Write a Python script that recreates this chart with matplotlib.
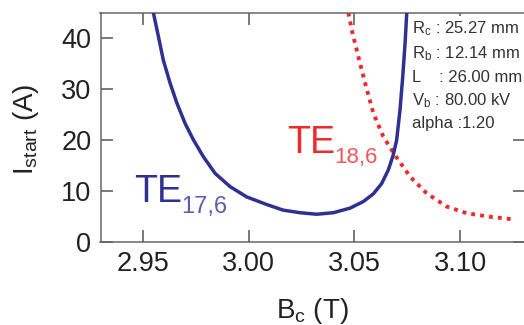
import matplotlib
matplotlib.use("Agg")
import matplotlib.pyplot as plt
from matplotlib.patches import Rectangle

plt.rcParams['font.family'] = ['Liberation Sans', 'DejaVu Sans']
plt.rcParams['mathtext.fontset'] = 'custom'
plt.rcParams['mathtext.rm'] = 'Liberation Sans'
plt.rcParams['mathtext.it'] = 'Liberation Sans:italic'

# TE17,6 start current
b_te17 = [2.9550, 2.9574, 2.9597, 2.9629, 2.9661, 2.9700, 2.9739, 2.9786, 2.9842,
          2.9913, 2.9991, 3.0086, 3.0164, 3.0243, 3.0322, 3.0401, 3.0480, 3.0543,
          3.0590, 3.0629, 3.0661, 3.0684, 3.0700, 3.0716, 3.0729, 3.0740, 3.0748]
i_te17 = [45.0, 40.3, 35.7, 31.2, 27.3, 23.3, 20.1, 16.8, 13.5,
          10.9, 8.9, 7.4, 6.3, 5.8, 5.5, 5.8, 6.7, 8.0,
          9.5, 11.5, 14.2, 17.1, 20.0, 25.9, 32.5, 39.0, 45.0]
# TE18,6 start current
b_te18 = [3.0472, 3.0488, 3.0519, 3.0551, 3.0590, 3.0637, 3.0692, 3.0763, 3.0842,
          3.0937, 3.1031, 3.1141, 3.1251]
i_te18 = [45.0, 41.6, 36.4, 31.2, 25.3, 20.7, 17.1, 12.9, 9.6,
          7.0, 5.7, 5.0, 4.5]

xticks = [2.95, 3.00, 3.05, 3.10]
xtick_labels = ['2.95', '3.00', '3.05', '3.10']
yticks = [0, 10, 20, 30, 40]

params = [r'R$_\mathrm{c}$ : 25.27 mm', r'R$_\mathrm{b}$ : 12.14 mm',
          r'L    : 26.00 mm', r'V$_\mathrm{b}$ : 80.00 kV', 'alpha :1.20']

W, H = 524, 325
fig = plt.figure(figsize=(W / 100, H / 100), dpi=100)
ax = fig.add_axes([100.5 / W, 1 - 242.3 / H, (525 - 100.5) / W, (242.3 - 12.7) / H])

blue = '#2e3191'
red = '#ee2a2d'
ax.plot(b_te18, i_te18, color=red, lw=2.8, linestyle=(0, (1, 1.3)), zorder=2)
ax.plot(b_te17, i_te17, color=blue, lw=2.5, zorder=3,
        solid_joinstyle='round', solid_capstyle='butt')

ax.set_xlim(2.930, 3.1307)
ax.set_ylim(0, 45)
ax.set_xticks(xticks)
ax.set_xticklabels(xtick_labels)
ax.set_yticks(yticks)
ax.tick_params(direction='in', length=8.6, width=1.1, color='#555555',
               labelsize=19.5, labelcolor='#222222', pad=6.5,
               top=True, right=True)
for s in ax.spines.values():
    s.set_color('#666666')
    s.set_linewidth(1.1)

def ftxt(x, y, s, **kw):
    fig.text(x / W, 1 - y / H, s, **kw)

# curve labels
ftxt(134, 201.7, 'TE', color=blue, fontsize=27, va='baseline', ha='left')
ftxt(181, 213.3, '17,6', color='#5a5fae', fontsize=17, va='baseline', ha='left')
ftxt(287, 152.7, 'TE', color=red, fontsize=27, va='baseline', ha='left')
ftxt(334, 163.3, '18,6', color='#f2565a', fontsize=16, va='baseline', ha='left')

# axis labels
ftxt(26, 129, r'I$_\mathrm{start}$ (A)', rotation=90, fontsize=20,
     color='#222222', ha='center', va='center')
ftxt(312, 318.3, r'B$_\mathrm{c}$ (T)', fontsize=20, color='#222222',
     ha='center', va='baseline')

# parameter box
fig.patches.append(Rectangle((409 / W, 1 - 133 / H), (W - 409) / W, (133 - 16) / H,
                             transform=fig.transFigure, facecolor='white',
                             edgecolor='none', zorder=5))
baselines = [33.3, 58.3, 82.3, 105.0, 128.3]
for s, yb in zip(params, baselines):
    ftxt(412, yb, s, fontsize=12.0, color='#333333', va='baseline', ha='left', zorder=6)

fig.savefig('out.png', dpi=100)
